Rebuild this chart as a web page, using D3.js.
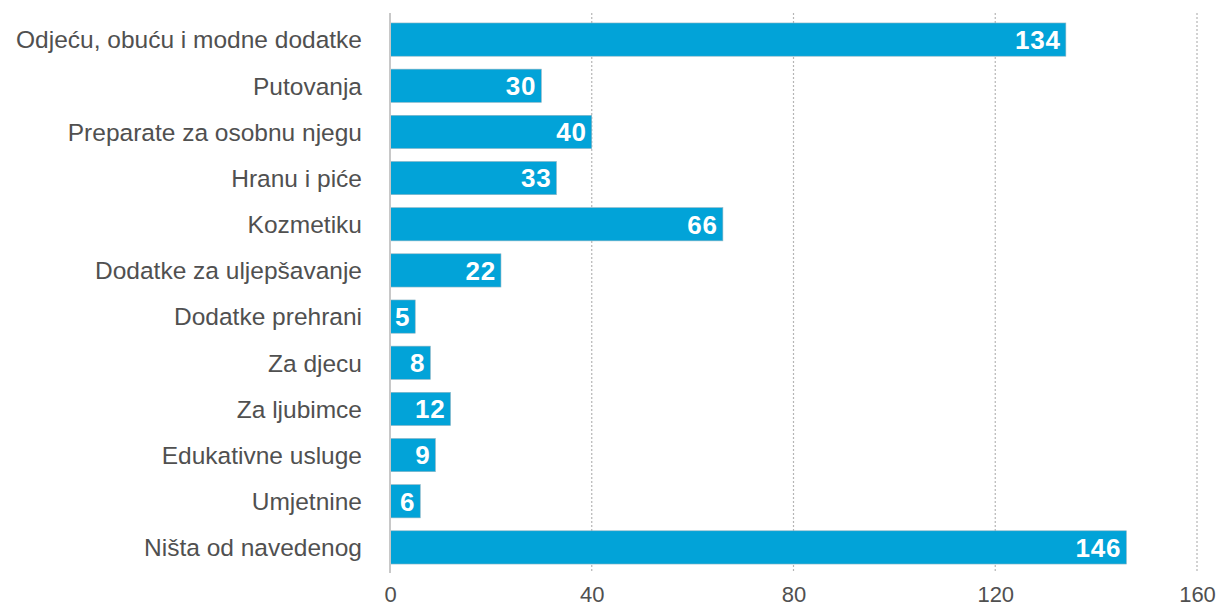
<!DOCTYPE html>
<html><head><meta charset="utf-8">
<script src="https://cdn.jsdelivr.net/npm/d3@7"></script>
<style>
html,body{margin:0;padding:0;background:#fff;}
svg{display:block;font-family:"Liberation Sans",Arial,Helvetica,sans-serif;}
</style></head>
<body>
<svg id="chart" width="1222" height="608"></svg>
<script>
const categories = ["Odjeću, obuću i modne dodatke","Putovanja","Preparate za osobnu njegu","Hranu i piće","Kozmetiku","Dodatke za uljepšavanje","Dodatke prehrani","Za djecu","Za ljubimce","Edukativne usluge","Umjetnine","Ništa od navedenog"];
const values = [134,30,40,33,66,22,5,8,12,9,6,146];
const ticks = [0,40,80,120,160];

const svg = d3.select("#chart");
const x = d3.scaleLinear().domain([0,160]).range([390,1197]);
const y = d3.scaleBand().domain(categories).range([16.5,570.5]).paddingInner(0.28).paddingOuter(0.14);

// gridlines
svg.append("g").selectAll("line").data(ticks.filter(t=>t>0)).join("line")
  .attr("x1",d=>x(d)).attr("x2",d=>x(d)).attr("y1",13).attr("y2",571)
  .attr("stroke","#b5b5b5").attr("stroke-width",1.2).attr("stroke-dasharray","2,2");

// bars
svg.append("g").selectAll("rect").data(values).join("rect")
  .attr("x",x(0)).attr("y",(d,i)=>y(categories[i]))
  .attr("width",d=>x(d)-x(0)).attr("height",y.bandwidth())
  .attr("fill","#02a3d8").attr("stroke","#8fb5c4").attr("stroke-width",0.6);

// axis line
svg.append("line").attr("x1",x(0)).attr("x2",x(0)).attr("y1",13).attr("y2",573)
  .attr("stroke","#c8c8c8").attr("stroke-width",2);

// value labels
svg.append("g").selectAll("text").data(values).join("text")
  .attr("x",d=>x(d)-5).attr("y",(d,i)=>y(categories[i])+y.bandwidth()/2)
  .attr("dy","0.36em").attr("text-anchor","end")
  .attr("fill","#fff").attr("font-size",26).attr("font-weight","bold")
  .attr("letter-spacing","0.8")
  .text(d=>d);

// category labels
const yAxis = d3.axisLeft(y).tickSize(0).tickPadding(0);
const gy = svg.append("g").attr("transform",`translate(${x(0)-28},0)`).call(yAxis);
gy.select(".domain").remove();
gy.selectAll("text").attr("font-size",24.5).attr("fill","#505050").attr("font-family","inherit").attr("dy","0.36em");

// x tick labels
const xAxis = d3.axisBottom(x).tickValues(ticks).tickSize(0).tickPadding(0);
const gx = svg.append("g").attr("transform","translate(0,586)").call(xAxis);
gx.select(".domain").remove();
gx.selectAll("text").attr("font-size",22).attr("fill","#505050").attr("font-family","inherit").attr("dy","0.71em");
</script>
</body></html>
